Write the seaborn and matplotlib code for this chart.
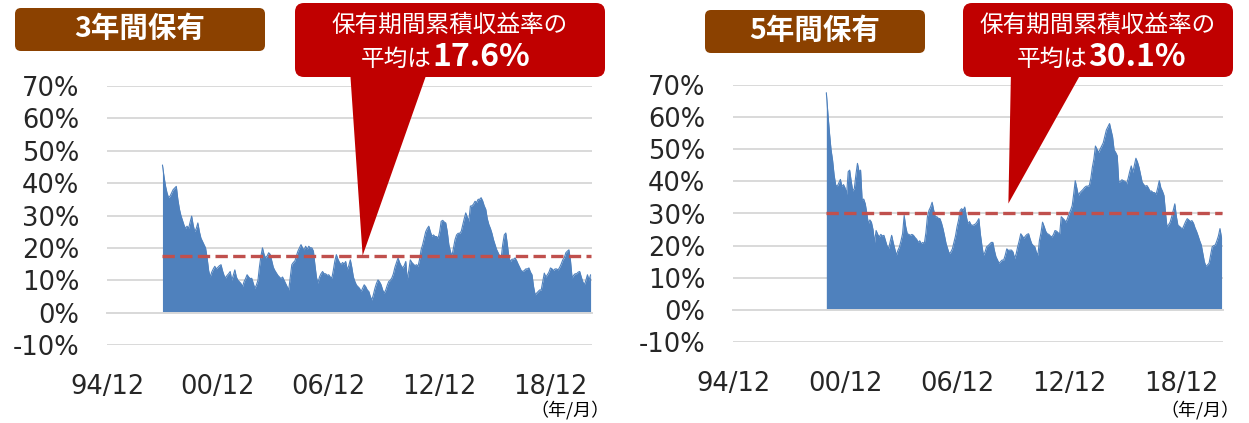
import numpy as np
import pandas as pd
import matplotlib
matplotlib.use("Agg")
import matplotlib.pyplot as plt
import matplotlib.dates as mdates
from matplotlib.patches import FancyBboxPatch, Polygon
import seaborn as sns

# ------------------ DATA ------------------

# 3-year holding, monthly cumulative return (%), first value = 1997/12
ret_3y = [
    45.6,
    42, 39, 37, 35.5, 36, 37, 38, 38.5, 39, 35, 32, 30,              # 1998
    28.5, 27, 26, 26.7, 26, 28, 29.8, 27, 25, 26, 27.7, 25,          # 1999
    23, 22, 21, 20, 17, 13, 11, 12.5, 13.5, 14.3, 13.5, 14,          # 2000
    14.5, 14.8, 13, 11.5, 10.7, 11.5, 12, 12.7, 10, 11.5, 13.2, 11,  # 2001
    10, 9.5, 9, 8, 9.5, 10.5, 11.7, 11, 10.5, 10.6, 9, 7.5,          # 2002
    8.5, 10, 14, 17.5, 20, 18, 16.9, 17.5, 18.5, 18, 16, 14,         # 2003
    13, 12.2, 11.5, 11, 10.5, 11, 10, 9, 8, 7, 11, 14.8,             # 2004
    15.5, 16, 17.5, 19, 20, 21, 20, 19.4, 20.5, 19.5, 20.5, 20,      # 2005
    20, 19, 15, 11, 9.1, 11, 12, 12.7, 12, 12, 11.5, 11.7,           # 2006
    11, 10.7, 13, 16, 17.9, 16.5, 15.5, 14.8, 15.5, 15, 15.8, 13.2,  # 2007
    14.5, 16.3, 14, 11, 9.6, 8.5, 8, 7.5, 6.5, 7.5, 8.6, 8,          # 2008
    7, 6.5, 5, 3.9, 5.5, 7.5, 9, 10.1, 9.5, 8.6, 7, 6,               # 2009
    7, 8.5, 9.6, 10, 10.7, 12, 14, 15.5, 16.9, 15.5, 14.5, 13.8,     # 2010
    14.5, 15.8, 10.1, 13, 16.3, 15.5, 15, 14.5, 14.8, 14.3, 16.5, 19.4,  # 2011
    21, 23, 25, 26, 26.7, 25, 23.6, 24, 23.5, 23.5, 23, 25,          # 2012
    28.2, 28.5, 28, 27.7, 25, 21, 19, 17.4, 20, 22.5, 24, 24.5,      # 2013
    24.5, 25.1, 27, 29, 30.8, 29.5, 28.2, 32.9, 33, 33.5, 34.4, 34,  # 2014
    35, 35, 35.5, 34.5, 33, 31.9, 29, 27.2, 26, 24.5, 22.5, 21,      # 2015
    19.5, 18.5, 17.5, 16.9, 21, 24, 24.6, 21, 17, 15.8, 16.5, 16.5,  # 2016
    16.9, 16, 15, 14, 13, 12.7, 13, 13.5, 13.5, 13.8, 12.5, 11.7,    # 2017
    8, 5.5, 6, 6.5, 7, 7, 9.5, 12.2, 11, 11.7, 12.5, 13.8,           # 2018
    13.5, 13, 13.5, 13.5, 13.2, 14, 15, 16.3, 17, 18.5, 19, 19.4,    # 2019
    16, 10.7, 11.5, 12, 12, 12.5, 12.7, 11, 9.5, 8.6, 10, 11.7,      # 2020
    10, 11.7,                                                        # 2021
]

# 5-year holding, monthly cumulative return (%), first value = 1999/12
ret_5y = [
    67.6,
    61, 55, 50, 46.6, 42, 38.9, 38.4, 39.5, 40.6, 38.4, 39, 38,      # 2000
    36, 43, 43.5, 40, 37, 37.8, 42, 45.6, 43, 43.5, 34, 34.5,        # 2001
    33, 30, 26.8, 28, 27.3, 25, 21, 24.7, 23.5, 22.7, 23.5, 23,      # 2002
    23.2, 21.5, 20, 19, 21, 23.2, 21, 19, 17, 18.5, 19.6, 21.5,      # 2003
    23.7, 29.4, 26, 23.7, 23.5, 23.2, 23.5, 23.2, 22.5, 22, 21, 21.5,  # 2004
    20.6, 21, 20.6, 24, 29, 31, 32, 33.5, 31, 29, 29, 28.5,          # 2005
    28.4, 27, 25.3, 23, 20.6, 19, 17.5, 18, 19, 21, 23, 25.8,        # 2006
    28, 31, 31.5, 31, 32, 29, 26.8, 27.5, 26.5, 26.3, 26.5, 26.8,    # 2007
    27.5, 28.4, 23.7, 20, 17, 18, 19.6, 20, 20.5, 21, 21, 18.5,      # 2008
    16.5, 15.5, 14.5, 15, 15.5, 15.5, 17, 19, 18.5, 18.6, 18.6, 18,  # 2009
    16, 17.5, 19.6, 21.5, 23.7, 23, 22.3, 23, 23.5, 23.7, 22, 20.6,  # 2010
    20, 19.6, 18, 17, 21.6, 24, 27.3, 26, 24.5, 23.7, 23.5, 23,      # 2011
    22.7, 23.5, 24.7, 24.5, 24, 23.7, 29, 28.5, 28, 27.3, 28.5, 29.9,  # 2012
    31, 32.5, 36, 40.2, 38, 35.6, 36.5, 37, 37.5, 38.1, 38.5, 38.5,  # 2013
    38.7, 41, 44.3, 47, 51, 50, 49, 50, 51, 52, 54, 56,              # 2014
    57, 58, 56, 53.9, 49.8, 49, 48, 39.7, 40, 40.5, 40.2, 40,        # 2015
    39.2, 41, 43, 44.8, 42.8, 45, 47.2, 46, 44.3, 42, 39.7, 39,      # 2016
    38.5, 38.7, 38, 37, 37, 36.5, 36.5, 36, 38, 40.2, 38, 37,        # 2017
    35.6, 30, 25.8, 26.5, 27.3, 29, 31, 33, 29, 26.3, 26, 25.5,      # 2018
    25.3, 26.5, 27.5, 28.4, 28, 27.5, 27.8, 27, 25.5, 24.4, 23, 21.5,  # 2019
    20.2, 17.5, 15, 13.5, 14, 14.5, 17, 19.6, 20, 20.2, 21.5, 23,    # 2020
    25.3, 22.3,                                                      # 2021
]

start_3y = "1997-12-01"
start_5y = "1999-12-01"
mean_3y = 17.6
mean_5y = 30.1

titles = ["3年間保有", "5年間保有"]
x_ticks = ["1994-12-01", "2000-12-01", "2006-12-01", "2012-12-01", "2018-12-01"]
y_ticks = [-10, 0, 10, 20, 30, 40, 50, 60, 70]

# ------------------ STYLE ------------------

sns.set_theme(style="white")
plt.rcParams["font.family"] = ["DejaVu Sans", "Noto Sans CJK JP"]

AREA = "#4F81BD"
MEAN = "#C0504D"
BROWN = "#8B4100"
RED = "#C00000"
GRID = "#D9D9D9"
JP = ["Noto Sans CJK JP", "DejaVu Sans"]

W, H = 1249, 423
fig = plt.figure(figsize=(W / 100, H / 100), dpi=100)
ax1 = fig.add_axes([107 / W, 78 / H, 485 / W, 259 / H])
ax2 = fig.add_axes([733 / W, 81 / H, 490 / W, 257 / H])

# overlay in pixel coords for boxes/callouts
ov = fig.add_axes([0, 0, 1, 1], zorder=10)
ov.set_xlim(0, W)
ov.set_ylim(H, 0)
ov.axis("off")
ov.patch.set_alpha(0)


def draw_panel(ax, values, start, mean):
    df = pd.DataFrame({
        "date": pd.date_range(start, periods=len(values), freq="MS"),
        "ret": values,
    })
    ax.fill_between(df["date"], 0, df["ret"], color=AREA, lw=0, zorder=2)
    sns.lineplot(data=df, x="date", y="ret", ax=ax, color=AREA, lw=0.8, zorder=3)
    sns.lineplot(x=[df["date"].iloc[0], df["date"].iloc[-1]], y=[mean, mean], ax=ax,
                 color=MEAN, lw=2.4, dashes=(3.2, 1.8), zorder=4, linestyle="--")

    ax.set_xlim(pd.Timestamp("1994-12-01"), pd.Timestamp("2021-03-01"))
    ax.set_ylim(-10, 70)
    ax.set_yticks(y_ticks)
    ax.set_yticklabels([f"{v}%" for v in y_ticks])
    ax.yaxis.grid(True, color=GRID, lw=1.4, zorder=0)
    ax.set_axisbelow(True)
    ax.tick_params(axis="y", length=0, pad=20, labelsize=18.5)

    tick_dates = pd.to_datetime(x_ticks)
    ax.set_xticks(tick_dates)
    ax.set_xticklabels([d.strftime("%y/%m") for d in tick_dates])
    ax.tick_params(axis="x", direction="out", length=6, width=1.2, color=GRID,
                   pad=38, labelsize=18.5)

    for s in ["left", "right", "top"]:
        ax.spines[s].set_visible(False)
    ax.spines["bottom"].set_position(("data", 0))
    ax.spines["bottom"].set_color(GRID)
    ax.spines["bottom"].set_linewidth(1.4)
    ax.set_xlabel("")
    ax.set_ylabel("")


draw_panel(ax1, ret_3y, start_3y, mean_3y)
draw_panel(ax2, ret_5y, start_5y, mean_5y)


def to_px(ax, date, val):
    xy = ax.transData.transform((mdates.date2num(pd.Timestamp(date)), val))
    return ov.transData.inverted().transform(xy)


def header(box, title, title_xy, callout, base, tip, mean_txt, split_x):
    # brown title box
    bx, by, bw, bh = box
    ov.add_patch(FancyBboxPatch((bx, by), bw, bh, boxstyle="round,pad=0,rounding_size=6",
                                fc=BROWN, ec="none"))
    ov.text(title_xy[0], title_xy[1], title, family=JP, fontsize=20.5, fontweight="bold",
            color="white", ha="center", va="center")
    # red callout with pointer
    cx, cy, cw, ch = callout
    ov.add_patch(Polygon([base[0], base[1], tip], closed=True, fc=RED, ec="none"))
    ov.add_patch(FancyBboxPatch((cx, cy), cw, ch, boxstyle="round,pad=0,rounding_size=9",
                                fc=RED, ec="none"))
    ov.text(cx + cw / 2, cy + 22, "保有期間累積収益率の", family=JP, fontsize=17,
            color="white", ha="center", va="center")
    ov.text(split_x, cy + 56, "平均は", family=JP, fontsize=17,
            color="white", ha="right", va="center")
    ov.text(split_x, cy + 54, mean_txt, family=JP, fontsize=23, fontweight="bold",
            color="white", ha="left", va="center")


tip1 = to_px(ax1, "2008-10-01", mean_3y)
tip2 = to_px(ax2, "2009-09-01", mean_5y + 3)
header((15, 8, 250, 43), titles[0], (140, 29), (295, 3, 310, 74),
       [(350, 70), (428, 70)], tip1, f"{mean_3y}%", 432)
header((705, 10, 220, 43), titles[1], (815, 31), (963, 3, 270, 74),
       [(1011, 70), (1083, 70)], tip2, f"{mean_5y}%", 1088)

ov.text(610, 410, "（年/月）", family=JP, fontsize=13, ha="right", va="center", color="black")
ov.text(1240, 410, "（年/月）", family=JP, fontsize=13, ha="right", va="center", color="black")

fig.savefig("out.png", dpi=100)
